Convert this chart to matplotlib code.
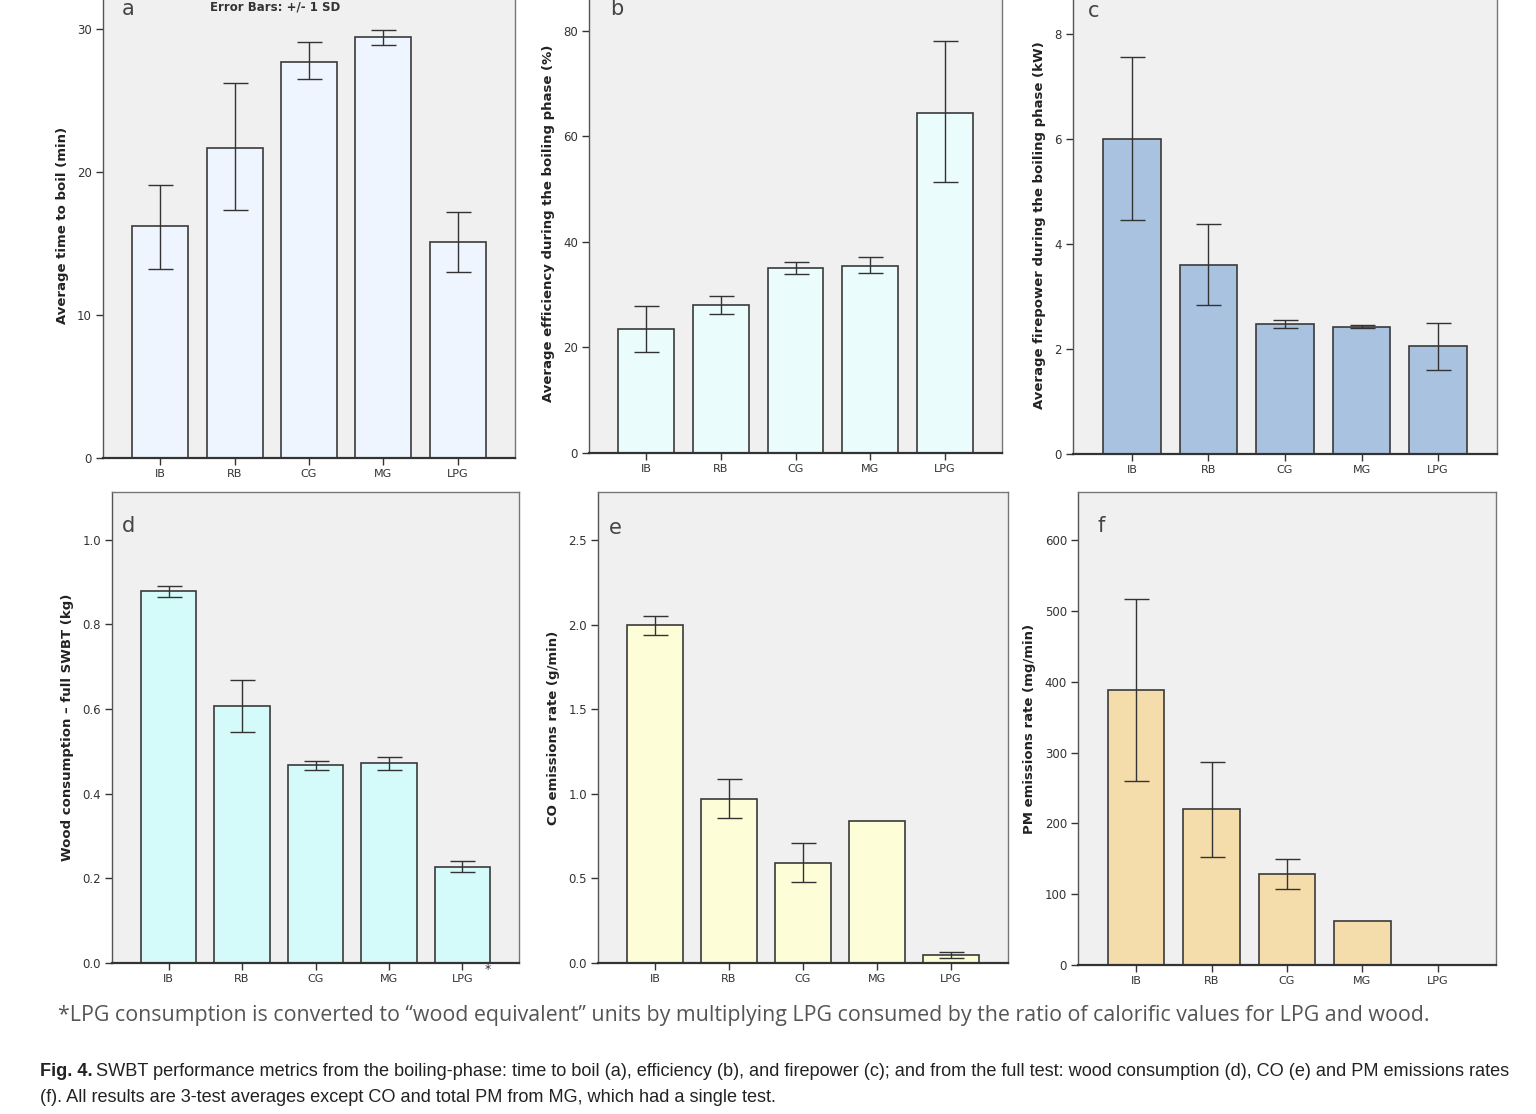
import matplotlib.pyplot as plt
import numpy as np

# -----------------------------
# Data
# -----------------------------
STOVES = ["IB", "RB", "CG", "MG", "LPG"]

time_to_boil = [16.2, 21.7, 27.7, 29.4, 15.1]
time_lo = [13.2, 17.3, 26.5, 28.9, 13.0]
time_hi = [19.1, 26.2, 29.1, 29.9, 17.2]

efficiency = [23.5, 28.0, 35.0, 35.5, 64.5]
eff_lo = [19.2, 26.3, 34.0, 34.2, 51.3]
eff_hi = [27.8, 29.8, 36.2, 37.1, 78.0]

firepower = [6.0, 3.6, 2.47, 2.42, 2.05]
fire_lo = [4.45, 2.83, 2.40, 2.40, 1.60]
fire_hi = [7.55, 4.37, 2.56, 2.45, 2.50]

wood = [0.878, 0.607, 0.467, 0.472, 0.228]
wood_lo = [0.865, 0.545, 0.455, 0.457, 0.215]
wood_hi = [0.890, 0.668, 0.478, 0.487, 0.240]

co_rate = [2.0, 0.97, 0.59, 0.84, 0.045]
co_lo = [1.94, 0.86, 0.48, None, 0.03]
co_hi = [2.05, 1.09, 0.71, None, 0.065]

pm_rate = [388, 220, 128, 62, 0.0]
pm_lo = [260, 152, 107, None, None]
pm_hi = [517, 287, 150, None, None]

FOOTNOTE = ("*LPG consumption is converted to \u201cwood equivalent\u201d units by multiplying LPG "
            "consumed by the ratio of calorific values for LPG and wood.")
CAPTION_1 = ("SWBT performance metrics from the boiling-phase: time to boil (a), efficiency (b), and "
             "firepower (c); and from the full test: wood consumption (d), CO (e) and PM emissions rates")
CAPTION_2 = "(f). All results are 3-test averages except CO and total PM from MG, which had a single test."

W, H = 1536, 1114
BG = "#f0f0f0"
EDGE = "#3a3a3a"


def px_axes(fig, left, right, bottom, top):
    """Axes from pixel bounds (top-left origin)."""
    return fig.add_axes([left / W, 1 - bottom / H, (right - left) / W, (bottom - top) / H])


def draw_panel(fig, box, values, lo, hi, ylim, yticks, yfmt, color, ylabel, letter, letter_pos):
    ax = px_axes(fig, *box)
    ax.set_facecolor(BG)
    x = np.arange(len(STOVES))
    ax.bar(x, values, width=0.75, color=color, edgecolor=EDGE, linewidth=1.2, zorder=2)
    for xi, v, l, h in zip(x, values, lo, hi):
        if l is None:
            continue
        ax.errorbar([xi], [v], yerr=[[v - l], [h - v]], fmt="none", ecolor="#333333",
                    elinewidth=1.0, capsize=9, capthick=1.0, zorder=3)
    ax.set_xlim(-0.77, 4.77)
    ax.set_ylim(*ylim)
    ax.set_xticks(x)
    ax.set_xticklabels(STOVES, fontsize=8, color="#333333")
    ax.set_yticks(yticks)
    ax.set_yticklabels([yfmt.format(t) for t in yticks], fontsize=8.5, color="#333333")
    ax.tick_params(axis="both", direction="out", length=5, width=1.0, color="#333333", pad=3)
    for s in ax.spines.values():
        s.set_color("#777777")
        s.set_linewidth(1.0)
    ax.spines["left"].set_color("#555555")
    ax.spines["bottom"].set_color("#333333")
    ax.spines["bottom"].set_linewidth(1.6)
    ax.set_ylabel(ylabel, fontsize=9.5, fontweight="bold", color="#222222", labelpad=6)
    fig.text(letter_pos[0] / W, 1 - letter_pos[1] / H, letter, fontsize=15, color="#444444",
             ha="left", va="center")
    return ax


def fit_text(fig, txt, x0_px, x1_px):
    """Scale a text's font size so it spans x0..x1 pixels."""
    fig.canvas.draw()
    bb = txt.get_window_extent()
    txt.set_fontsize(txt.get_fontsize() * (x1_px - x0_px) / bb.width)


fig = plt.figure(figsize=(W / 100, H / 100), dpi=100)
fig.patch.set_facecolor("white")

draw_panel(fig, (103, 515, 458, -7), time_to_boil, time_lo, time_hi, (0, 32.5),
           [0, 10, 20, 30], "{:g}", "#eef5fe", "Average time to boil (min)", "a", (122, 9))
draw_panel(fig, (589, 1002, 453, -6), efficiency, eff_lo, eff_hi, (0, 87),
           [0, 20, 40, 60, 80], "{:g}", "#ebfcfc",
           "Average efficiency during the boiling phase (%)", "b", (610, 9))
draw_panel(fig, (1073, 1497, 454, -3), firepower, fire_lo, fire_hi, (0, 8.7),
           [0, 2, 4, 6, 8], "{:g}", "#a9c2e0",
           "Average firepower during the boiling phase (kW)", "c", (1088, 11))
draw_panel(fig, (112, 519, 963, 492), wood, wood_lo, wood_hi, (0, 1.113),
           [0, 0.2, 0.4, 0.6, 0.8, 1.0], "{:.1f}", "#d4fafa",
           "Wood consumption \u2013 full SWBT (kg)", "d", (122, 526))
draw_panel(fig, (598, 1008, 963, 492), co_rate, co_lo, co_hi, (0, 2.784),
           [0, 0.5, 1.0, 1.5, 2.0, 2.5], "{:.1f}", "#fdfdd8",
           "CO emissions rate (g/min)", "e", (609, 528))
draw_panel(fig, (1078, 1496, 965, 492), pm_rate, pm_lo, pm_hi, (0, 668),
           [0, 100, 200, 300, 400, 500, 600], "{:g}", "#f4dcab",
           "PM emissions rate (mg/min)", "f", (1097, 526))

# header for error bars (at the very top of the picture)
fig.text(275 / W, 1 - 7 / H, "Error Bars: +/- 1 SD", fontsize=8.5, fontweight="bold",
         color="#333333", ha="center", va="center")

# asterisk next to LPG in panel d
fig.text(488 / W, 1 - 970 / H, "*", fontsize=9, color="#333333", ha="center", va="center")

fn = fig.text(58 / W, 1 - 1015 / H, FOOTNOTE, fontsize=14, color="#555555",
              ha="left", va="center", family=["Open Sans", "DejaVu Sans"])
fit_text(fig, fn, 58, 1432)

# caption: bold "Fig. 4." followed by normal text, scaled together to span 40..1510 px
cap_font = ["Liberation Sans", "DejaVu Sans"]
t1 = fig.text(40 / W, 1 - 1072 / H, "Fig. 4.", fontsize=11, fontweight="bold",
              color="#222222", ha="left", va="center", family=cap_font)
c1 = fig.text(0, 1 - 1072 / H, CAPTION_1, fontsize=11, color="#222222",
              ha="left", va="center", family=cap_font)
for _ in range(3):
    fig.canvas.draw()
    bb = t1.get_window_extent()
    c1.set_x((bb.x1 + 3) / W)
    fig.canvas.draw()
    total = c1.get_window_extent().x1 - 40
    scale = (1510 - 40) / total
    t1.set_fontsize(t1.get_fontsize() * scale)
    c1.set_fontsize(c1.get_fontsize() * scale)
fig.canvas.draw()
c1.set_x((t1.get_window_extent().x1 + 3) / W)
fig.text(40 / W, 1 - 1097 / H, CAPTION_2, fontsize=c1.get_fontsize(), color="#222222",
         ha="left", va="center", family=cap_font)

fig.savefig("out.png", dpi=100, facecolor="white")
